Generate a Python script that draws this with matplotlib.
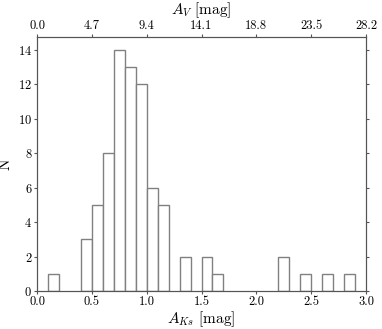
import matplotlib
matplotlib.use("Agg")
import matplotlib.pyplot as plt
import numpy as np

plt.rcParams['font.family'] = ['cmr10', 'DejaVu Serif']
plt.rcParams['mathtext.fontset'] = 'cm'
plt.rcParams['axes.unicode_minus'] = False
plt.rcParams['axes.formatter.use_mathtext'] = True

bin_left = [0.1, 0.4, 0.5, 0.6, 0.7, 0.8, 0.9, 1.0, 1.1, 1.3, 1.5, 1.6, 2.2, 2.4, 2.6, 2.8]
counts = [1, 3, 5, 8, 14, 13, 12, 6, 5, 2, 2, 1, 2, 1, 1, 1]
bin_width = 0.1
xticks = [0.0, 0.5, 1.0, 1.5, 2.0, 2.5, 3.0]
top_labels = ["0.0", "4.7", "9.4", "14.1", "18.8", "23.5", "28.2"]

fig = plt.figure(figsize=(3.82, 3.29), dpi=100)
ax = fig.add_axes([0.097, 0.115, 0.861, 0.773])
spc = '#555555'
ax.bar(bin_left, counts, width=bin_width, align='edge', facecolor='white',
       edgecolor='#808080', linewidth=1.0)
ax.set_xlim(0, 3.0)
ax.set_ylim(0, 14.75)
ax.set_xticks(xticks)
ax.set_xticklabels([f"{v:.1f}" for v in xticks])
ax.set_yticks([0, 2, 4, 6, 8, 10, 12, 14])
for s in ax.spines.values():
    s.set_color(spc)
ax.tick_params(direction='out', length=2, color=spc, labelsize=9, right=True, pad=1.5)
ax.set_xlabel(r'$A_{Ks}$ [mag]', fontsize=11, labelpad=1)
ax.set_ylabel('N', fontsize=11, labelpad=4)

ax2 = ax.twiny()
ax2.set_xlim(ax.get_xlim())
ax2.set_xticks(xticks)
ax2.set_xticklabels(top_labels)
for s in ax2.spines.values():
    s.set_color(spc)
ax2.tick_params(direction='out', length=2, color=spc, labelsize=9, pad=1.5)
ax2.set_xlabel(r'$A_V$ [mag]', fontsize=11, labelpad=4)

fig.savefig('out.png', dpi=100)
